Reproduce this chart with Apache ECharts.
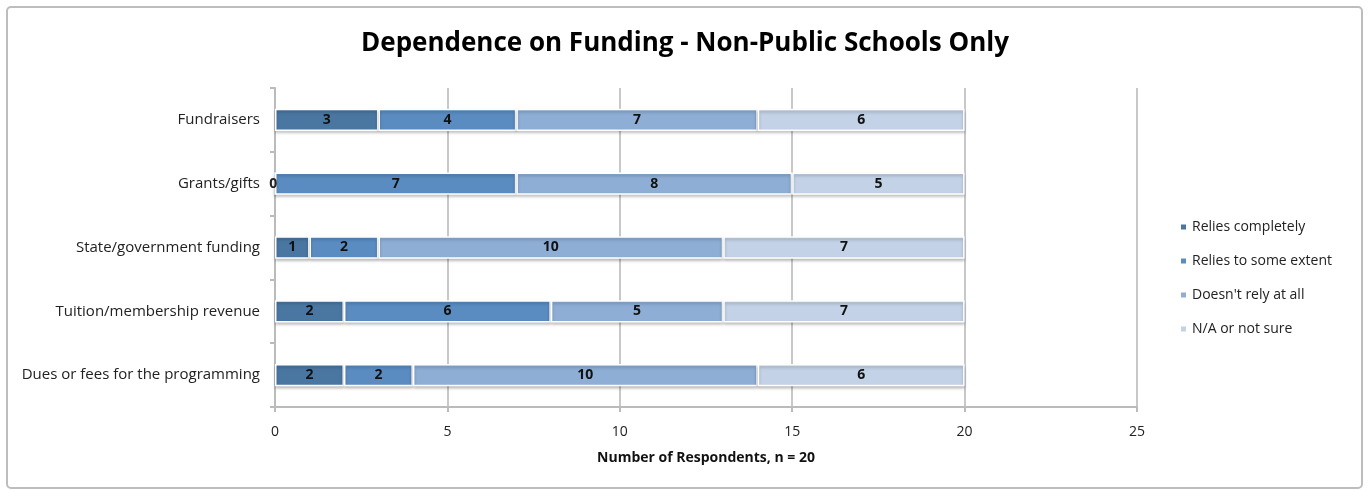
<!DOCTYPE html>
<html><head><meta charset="utf-8">
<script src="https://cdn.jsdelivr.net/npm/echarts@6/dist/echarts.min.js"></script>
<style>html,body{margin:0;padding:0;background:#fff}#c{width:1370px;height:490px}</style>
</head><body><div id="c"></div>
<script>
var categories = ["Dues or fees for the programming","Tuition/membership revenue","State/government funding","Grants/gifts","Fundraisers"];
var seriesNames = ["Relies completely","Relies to some extent","Doesn't rely at all","N/A or not sure"];
var reliesCompletely = [2,2,1,0,3];
var reliesSome = [2,6,2,7,4];
var doesntRely = [10,5,10,8,7];
var naNotSure = [6,7,7,5,6];
var xTicks = [0,5,10,15,20,25];
var colors = ["#4a77a2","#5a8cc2","#8eaed5","#c3d2e7"];
var font = "'Open Sans', 'Noto Sans', sans-serif";
var chart = echarts.init(document.getElementById('c'));
var values = [reliesCompletely, reliesSome, doesntRely, naNotSure];
var series = values.map(function(v, i){
  return {
    name: seriesNames[i], type: 'bar', stack: 'total', barWidth: '35%',
    data: v.map(function(d){
      var o = {value: d};
      if (d === 0) { o.label = {position: 'left', distance: -3, color: '#222'}; }
      return o;
    }),
    itemStyle: {color: colors[i], borderColor: '#fff', borderWidth: 1.5,
      shadowColor: 'rgba(0,0,0,0.25)', shadowBlur: 3, shadowOffsetY: 2},
    label: {show: true, position: 'inside', color: '#111', fontSize: 14, fontWeight: 'bold', fontFamily: font},
    emphasis: {disabled: true}
  };
});
chart.setOption({
  animation: false,
  title: {text: 'Dependence on Funding - Non-Public Schools Only', left: 'center', top: 26,
    textStyle: {fontSize: 26, fontWeight: 'bold', color: '#000', fontFamily: font}},
  legend: {orient: 'vertical', left: 1174, top: 215, itemGap: 20, itemWidth: 7, itemHeight: 7,
    icon: 'rect', data: seriesNames,
    textStyle: {fontSize: 14, color: '#222', fontFamily: font}},
  grid: {left: 275, right: 233, top: 88, bottom: 83, containLabel: false},
  xAxis: {type: 'value', min: 0, max: 25, interval: 5,
    name: 'Number of Respondents, n = 20', nameLocation: 'middle', nameGap: 44,
    nameTextStyle: {fontSize: 14, fontWeight: 'bold', color: '#111', fontFamily: font},
    axisLine: {show: true, lineStyle: {color: '#bbb', width: 2}},
    axisTick: {show: true, length: 5, lineStyle: {color: '#bbb', width: 2}},
    axisLabel: {fontSize: 14, color: '#222', margin: 18, fontFamily: font,
      formatter: function(v){ return xTicks.indexOf(v) >= 0 ? String(v) : ''; }},
    splitLine: {show: true, lineStyle: {color: '#c8c8c8', width: 2}}
  },
  yAxis: {type: 'category', data: categories,
    axisLine: {show: true, lineStyle: {color: '#bbb', width: 2}},
    axisTick: {show: true, length: 5, lineStyle: {color: '#bbb', width: 2}},
    axisLabel: {fontSize: 15, color: '#222', margin: 15, fontFamily: font}
  },
  graphic: [{type: 'rect', shape: {x: 7, y: 7, width: 1355, height: 481, r: 4},
    style: {fill: 'none', stroke: '#bdbdbd', lineWidth: 2}, z: -1}],
  series: series
});
</script></body></html>
